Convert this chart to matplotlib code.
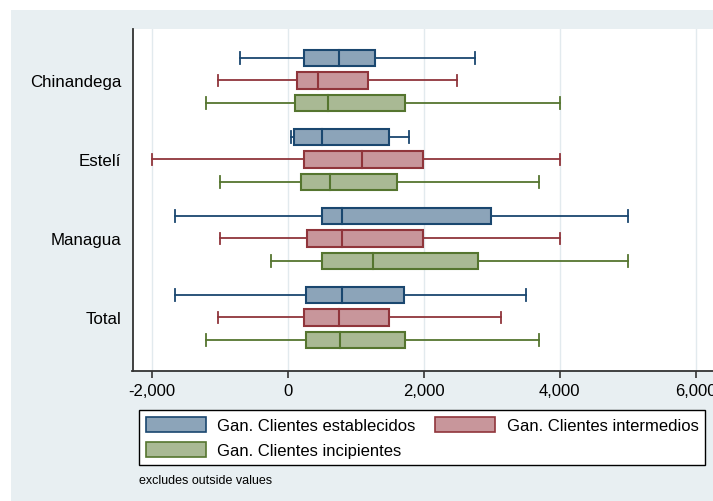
import matplotlib
matplotlib.use('Agg')
import matplotlib.pyplot as plt
from matplotlib.patches import Rectangle, Patch

plt.rcParams['font.family'] = ['Liberation Sans', 'DejaVu Sans']

groups = ['Chinandega', 'Estelí', 'Managua', 'Total']
series = ['Gan. Clientes establecidos', 'Gan. Clientes intermedios', 'Gan. Clientes incipientes']

# per group: [whisker low, q1, median, q3, whisker high]
establecidos = [[-700, 240, 750, 1280, 2750],
                [50, 100, 500, 1490, 1790],
                [-1650, 500, 800, 2990, 5000],
                [-1650, 270, 800, 1710, 3500]]
intermedios = [[-1020, 140, 450, 1180, 2490],
               [-2000, 240, 1100, 1990, 4000],
               [-1000, 290, 800, 1990, 4000],
               [-1020, 235, 750, 1490, 3140]]
incipientes = [[-1200, 115, 600, 1730, 4000],
               [-1000, 195, 620, 1615, 3700],
               [-250, 500, 1250, 2795, 5000],
               [-1200, 270, 770, 1730, 3700]]

edge_cols = ['#1a476f', '#90353b', '#55752f']
fill_cols = ['#8ca4b9', '#c8969b', '#a9b994']

W, H = 713, 502
fig = plt.figure(figsize=(W / 100, H / 100), dpi=100)
fig.patch.set_facecolor('white')
fig.patches.append(Rectangle((11 / W, 0), 1, 1 - 11 / H, transform=fig.transFigure,
                             facecolor='#e8eff2', edgecolor='none', zorder=-5))

left, right, top, bottom = 132.5, 716, 30, 371.5
ax = fig.add_axes([left / W, 1 - bottom / H, (right - left) / W, (bottom - top) / H])
ax.set_zorder(1)
ax.set_facecolor('white')

gap = 3.5
bh = 0.73
for g in range(len(groups)):
    for s, data in enumerate([establecidos, intermedios, incipientes]):
        lo, q1, med, q3, hi = data[g]
        y = g * gap + (s - 1)
        ec, fc = edge_cols[s], fill_cols[s]
        ax.plot([lo, q1], [y, y], color=ec, lw=1.3, zorder=2)
        ax.plot([q3, hi], [y, y], color=ec, lw=1.3, zorder=2)
        ax.plot([lo, lo], [y - 0.25, y + 0.25], color=ec, lw=1.3, zorder=2)
        ax.plot([hi, hi], [y - 0.25, y + 0.25], color=ec, lw=1.3, zorder=2)
        ax.add_patch(Rectangle((q1, y - bh / 2), q3 - q1, bh, facecolor=fc,
                               edgecolor=ec, lw=1.5, zorder=3))
        ax.plot([med, med], [y - bh / 2, y + bh / 2], color=ec, lw=1.5, zorder=4)

ax.set_xlim(-2280, 6300)
ax.set_ylim(3 * gap + 2.35, -2.28)
ax.set_xticks([-2000, 0, 2000, 4000, 6000])
ax.set_xticklabels(['-2,000', '0', '2,000', '4,000', '6,000'], fontsize=12)
ax.set_yticks([g * gap for g in range(len(groups))])
ax.set_yticklabels(groups, fontsize=12.2)
ax.tick_params(axis='y', length=0, pad=8)
ax.tick_params(axis='x', length=5, width=1.2, color='#333333', pad=4)
ax.grid(axis='x', color='#e2eaee', lw=1)
ax.set_axisbelow(True)
for sp in ['top', 'right']:
    ax.spines[sp].set_visible(False)
for sp in ['left', 'bottom']:
    ax.spines[sp].set_color('#333333')
    ax.spines[sp].set_linewidth(1.3)

handles = [Patch(facecolor=fill_cols[i], edgecolor=edge_cols[i], lw=1.2) for i in range(3)]
order = [0, 2, 1]
leg = fig.legend([handles[i] for i in order], [series[i] for i in order],
                 loc='upper left', bbox_to_anchor=(139 / W, 1 - 411 / H), ncol=2,
                 fontsize=12, frameon=True, fancybox=False, edgecolor='black',
                 framealpha=1, facecolor='white', borderaxespad=0,
                 handlelength=3.6, handleheight=1.0, handletextpad=0.7,
                 columnspacing=1.15, borderpad=0.4, labelspacing=0.55)
leg.get_frame().set_linewidth(1.0)

fig.text(139 / W, 1 - 481 / H, 'excludes outside values', fontsize=9, va='center')

fig.savefig('out.png', dpi=100, facecolor=fig.get_facecolor())
